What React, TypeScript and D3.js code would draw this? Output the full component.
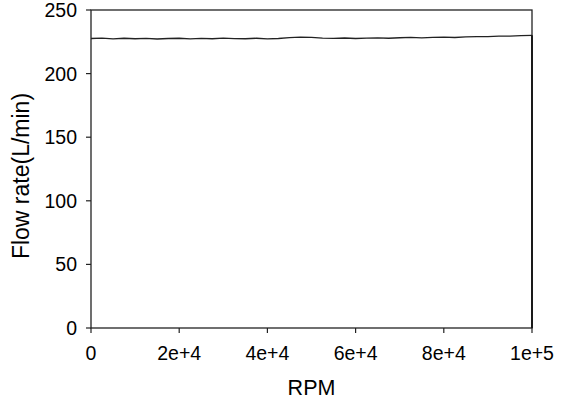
import React from 'react';
import * as d3 from 'd3';

const rpm = d3.range(0, 100001, 2500);
const flow = [
  227.6, 227.9, 227.3, 227.8, 227.4, 227.7, 227.2, 227.6, 227.8, 227.3,
  227.7, 227.4, 227.9, 227.5, 227.4, 227.8, 227.3, 227.6, 228.3, 228.6,
  228.4, 227.9, 227.7, 228.0, 227.6, 227.9, 228.1, 227.8, 228.2, 228.4,
  228.1, 228.5, 228.7, 228.4, 228.8, 229.0, 229.1, 229.5, 229.5, 229.9, 230.1,
];
const xTicks = [0, 20000, 40000, 60000, 80000, 100000];
const xTickLabels = ['0', '2e+4', '4e+4', '6e+4', '8e+4', '1e+5'];
const yTicks = [0, 50, 100, 150, 200, 250];

export default function App() {
  const width = 567;
  const height = 402;
  const left = 91, right = 532, top = 10, bottom = 328;

  const x = d3.scaleLinear().domain([0, 100000]).range([left, right]);
  const y = d3.scaleLinear().domain([0, 250]).range([bottom, top]);

  const line = d3
    .line<number>()
    .x((_, i) => x(rpm[i]))
    .y(d => y(d));

  const font = 'Liberation Sans, Arial, sans-serif';

  return (
    <svg
      width={width}
      height={height}
      style={{ position: 'absolute', left: 0, top: 0, background: '#fff' }}
    >
      <rect x={left} y={top} width={right - left} height={bottom - top} fill="none" stroke="#222" strokeWidth={1.3} />

      {yTicks.map(t => (
        <g key={'y' + t}>
          <line x1={left - 5} x2={left} y1={y(t)} y2={y(t)} stroke="#222" strokeWidth={1.2} />
          <text x={77} y={y(t)} dy="0.36em" textAnchor="end" fontFamily={font} fontSize={19.5} fill="#000">
            {t}
          </text>
        </g>
      ))}

      {xTicks.map((t, i) => (
        <g key={'x' + t}>
          <line x1={x(t)} x2={x(t)} y1={bottom} y2={bottom + 5} stroke="#222" strokeWidth={1.2} />
          <text x={x(t)} y={360} textAnchor="middle" fontFamily={font} fontSize={19.5} fill="#000">
            {xTickLabels[i]}
          </text>
        </g>
      ))}

      <path d={line(flow) ?? ''} fill="none" stroke="#222" strokeWidth={1.3} />
      <line x1={right} x2={right} y1={y(flow[flow.length - 1])} y2={bottom} stroke="#111" strokeWidth={1.8} />

      <text x={(left + right) / 2} y={395} textAnchor="middle" fontFamily={font} fontSize={21.5} fill="#000">
        RPM
      </text>
      <text
        transform={`translate(29, 176) rotate(-90)`}
        textAnchor="middle"
        fontFamily={font}
        fontSize={23}
        fill="#000"
      >
        Flow rate(L/min)
      </text>
    </svg>
  );
}
